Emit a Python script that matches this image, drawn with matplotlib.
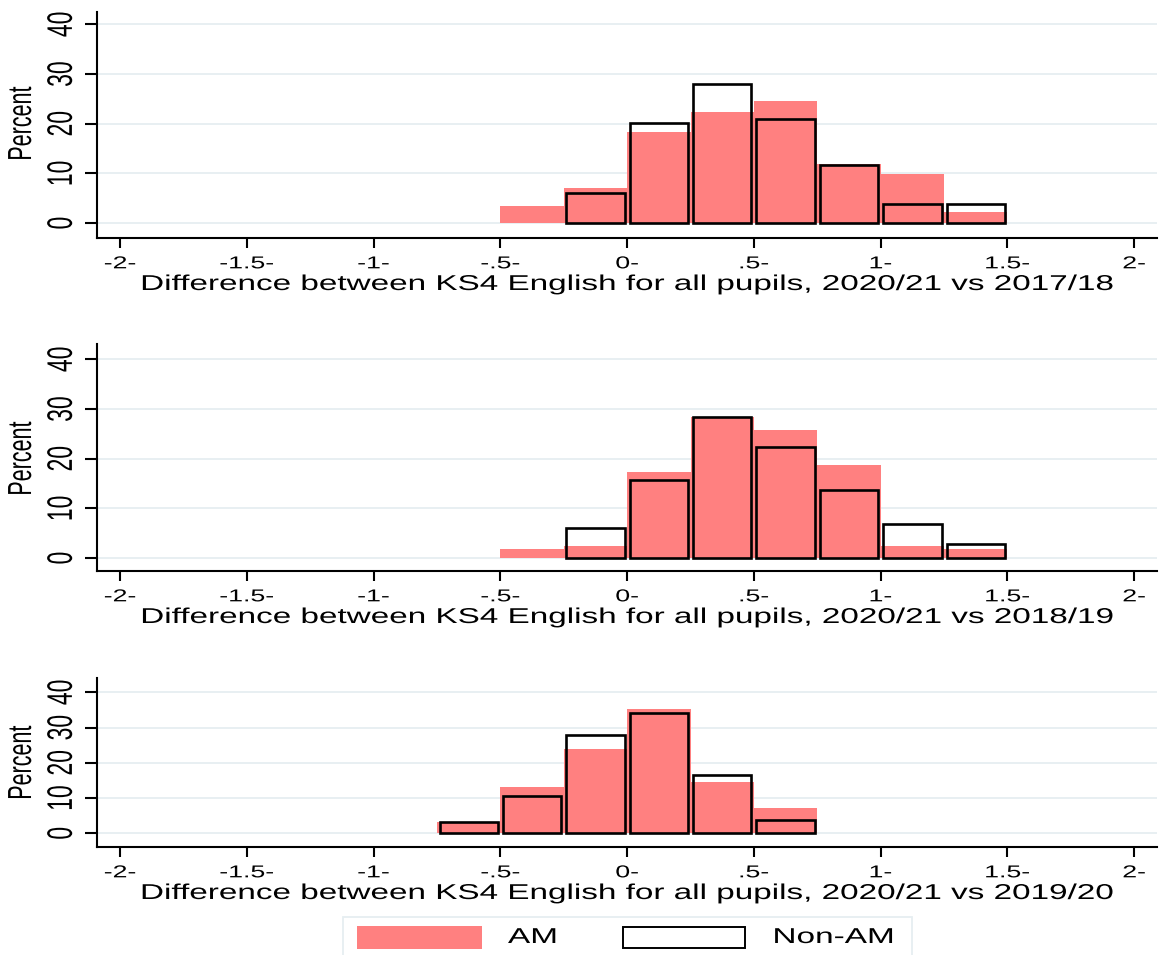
import numpy as np
import matplotlib
matplotlib.use("Agg")
import matplotlib.pyplot as plt
from matplotlib.patches import Rectangle
from matplotlib.patheffects import AbstractPathEffect
from matplotlib.transforms import Affine2D, blended_transform_factory

# ---------------------------------------------------------------- data
bin_width = 0.25

bins_1718 = [-0.5, -0.25, 0.0, 0.25, 0.5, 0.75, 1.0, 1.25]
am_1718 = [3.5, 7.0, 18.4, 22.4, 24.6, 11.8, 9.8, 2.2]
nonam_1718 = [0.0, 6.0, 20.2, 28.0, 20.9, 11.7, 3.8, 3.8]

bins_1819 = [-0.5, -0.25, 0.0, 0.25, 0.5, 0.75, 1.0, 1.25]
am_1819 = [1.8, 2.4, 17.4, 28.5, 25.8, 18.7, 2.4, 1.8]
nonam_1819 = [0.0, 6.0, 15.8, 28.4, 22.3, 13.8, 6.8, 2.8]

bins_1920 = [-0.75, -0.5, -0.25, 0.0, 0.25, 0.5]
am_1920 = [3.1, 13.0, 23.9, 35.2, 14.6, 7.3]
nonam_1920 = [3.2, 10.7, 27.9, 34.1, 16.5, 3.8]

x_ticks = [-2, -1.5, -1, -0.5, 0, 0.5, 1, 1.5, 2]
x_tick_labels = ["-2-", "-1.5-", "-1-", "-.5-", "0-", ".5-", "1-", "1.5-", "2-"]
y_ticks = [0, 10, 20, 30, 40]
y_tick_labels = ["0", "10", "20", "30", "40"]

x_titles = [
    "Difference between KS4 English for all pupils, 2020/21 vs 2017/18",
    "Difference between KS4 English for all pupils, 2020/21 vs 2018/19",
    "Difference between KS4 English for all pupils, 2020/21 vs 2019/20",
]
y_title = "Percent"
legend_labels = ["AM", "Non-AM"]

# ---------------------------------------------------------------- style
W, H = 1160, 955
AM_COLOR = "#FF8080"
GRID_COLOR = "#E6EEF1"
FONT = "Liberation Sans"
plt.rcParams["font.family"] = [FONT, "DejaVu Sans"]


class WideText(AbstractPathEffect):
    """Draw text glyphs stretched horizontally about their centre."""

    def __init__(self, sx=1.55):
        super().__init__()
        self._sx = sx

    def draw_path(self, renderer, gc, tpath, affine, rgbFace=None):
        bb = tpath.get_extents(affine)
        cx = 0.5 * (bb.x0 + bb.x1)
        t = affine + Affine2D().translate(-cx, 0).scale(self._sx, 1.0).translate(cx, 0)
        renderer.draw_path(gc, tpath, t, rgbFace)


WIDE = [WideText(1.55)]


def fx(px):
    return px / W


def fy(py):
    return 1 - py / H


fig = plt.figure(figsize=(W / 100, H / 100), dpi=100)

# panel boxes in pixels: (top, bottom, ylim)
panels = [
    (12, 238, (-3.0, 42.5), bins_1718, am_1718, nonam_1718, x_titles[0]),
    (344, 571, (-2.6, 43.1), bins_1819, am_1819, nonam_1819, x_titles[1]),
    (678, 847, (-3.9, 44.1), bins_1920, am_1920, nonam_1920, x_titles[2]),
]
AX_LEFT, AX_RIGHT = 97, 1157

for top, bottom, ylim, lefts, am, nonam, xtitle in panels:
    ax = fig.add_axes([fx(AX_LEFT), fy(bottom), (AX_RIGHT - AX_LEFT) / W, (bottom - top) / H])
    lefts = np.asarray(lefts)
    am = np.asarray(am)
    nonam = np.asarray(nonam)

    ax.bar(lefts, am, width=bin_width, align="edge", color=AM_COLOR,
           linewidth=0, zorder=2)
    keep = nonam > 0
    ax.bar(lefts[keep] + bin_width / 2, nonam[keep], width=bin_width - 0.02,
           align="center", fill=False, edgecolor="black", linewidth=1.9,
           joinstyle="miter", zorder=3)

    ax.set_xlim(-2.091, 2.09)
    ax.set_ylim(*ylim)
    ax.set_xticks(x_ticks, x_tick_labels)
    ax.set_yticks(y_ticks, y_tick_labels)

    ax.set_axisbelow(True)
    ax.yaxis.grid(True, color=GRID_COLOR, linewidth=1.3)
    ax.xaxis.grid(False)
    for side in ("top", "right"):
        ax.spines[side].set_visible(False)
    ax.spines["left"].set_linewidth(1.5)
    ax.spines["bottom"].set_linewidth(1.5)

    ax.tick_params(axis="x", direction="out", length=7.2, width=1.5, pad=6,
                   labelsize=12.4)
    ax.tick_params(axis="y", direction="out", length=8.6, width=1.5, pad=9,
                   labelsize=16.5, labelrotation=90)
    for lab in ax.get_yticklabels():
        lab.set_va("center")
        lab.set_path_effects(WIDE)
    for lab in ax.get_xticklabels():
        lab.set_path_effects(WIDE)

    # y-axis title, centred on the 0-40 range
    tr = blended_transform_factory(fig.transFigure, ax.transData)
    fig.text(fx(21.5), 20, y_title, transform=tr, rotation=90, ha="center",
             va="center", fontsize=15.5, path_effects=WIDE)

    # x-axis title
    fig.text(fx(628), fy(bottom + 52), xtitle, ha="center", va="baseline",
             fontsize=15.45, path_effects=WIDE)

# ---------------------------------------------------------------- legend
fig.add_artist(Rectangle((fx(343), fy(960)), (912 - 343) / W, (960 - 917) / H,
                         transform=fig.transFigure, facecolor="white",
                         edgecolor=GRID_COLOR, linewidth=1.3, clip_on=False))
fig.add_artist(Rectangle((fx(357), fy(949)), (482 - 357) / W, (949 - 926) / H,
                         transform=fig.transFigure, facecolor=AM_COLOR,
                         edgecolor="none"))
fig.add_artist(Rectangle((fx(623), fy(948)), (745 - 623) / W, (948 - 927) / H,
                         transform=fig.transFigure, facecolor="white",
                         edgecolor="black", linewidth=1.4))
fig.text(fx(532.5), fy(937.5), legend_labels[0], ha="center", va="center",
         fontsize=15.5, path_effects=WIDE)
fig.text(fx(833.5), fy(937.5), legend_labels[1], ha="center", va="center",
         fontsize=15.5, path_effects=WIDE)

fig.savefig("out.png", dpi=100, facecolor="white")
